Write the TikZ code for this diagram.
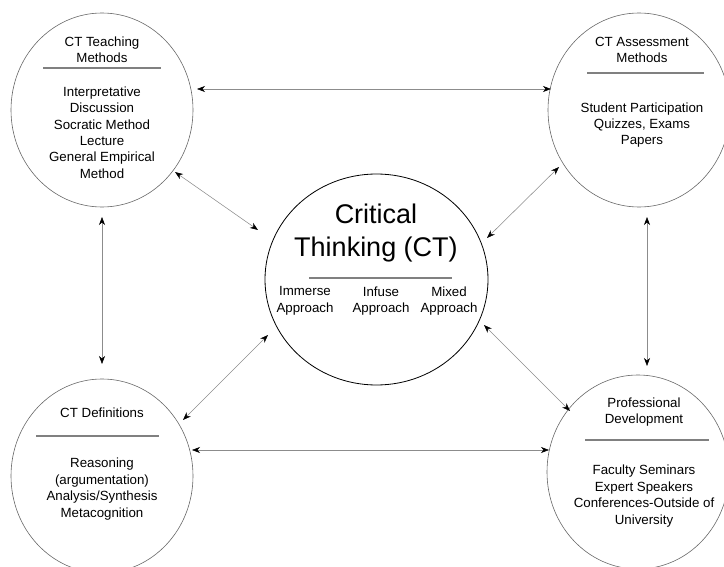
\documentclass[tikz,border=0pt]{standalone}
\usepackage{fontspec}
\setmainfont{Liberation Sans}
\usetikzlibrary{shapes.geometric,arrows.meta}
\begin{document}
\begin{tikzpicture}[x=1pt,y=-1pt,
  outer/.style={draw=black!60,line width=0.6pt,ellipse,inner sep=0pt,minimum width=182pt,minimum height=194pt},
  inner/.style={draw=black,line width=0.8pt,ellipse,inner sep=0pt,minimum width=223pt,minimum height=211pt},
  txt/.style={align=center,inner sep=0pt,font=\fontsize{13.3}{16.4}\selectfont},
  big/.style={align=center,inner sep=0pt,font=\fontsize{27}{33}\selectfont},
  sep/.style={draw=black!50,line width=1.6pt},
  conn/.style={draw=black!45,line width=0.55pt,{Stealth[length=8pt,width=6pt,inset=2.5pt,black]}-{Stealth[length=8pt,width=6pt,inset=2.5pt,black]}}]
\useasboundingbox (0,0) rectangle (724,567);
% circles
\node[outer] (tl) at (102,110) {};
\node[outer] (tr) at (639,110) {};
\node[outer] (bl) at (102,476) {};
\node[outer] (br) at (638,472) {};
\node[inner] (c) at (376.5,279.5) {};
% top-left
\node[txt] (tlh) at (102,50) {CT Teaching\\Methods};
\draw[sep] (43,68) -- (161,68);
\node[txt] (tlb) at (102,132.5) {Interpretative\\Discussion\\Socratic Method\\Lecture\\General Empirical\\Method};
% top-right
\node[txt] (trh) at (642,50) {CT Assessment\\Methods};
\draw[sep] (587,73) -- (704,73);
\node[txt] (trb) at (642,125) {Student Participation\\Quizzes, Exams\\Papers};
% bottom-left
\node[txt] (blh) at (102,413) {CT Definitions};
\draw[sep] (36,436) -- (159,436);
\node[txt] (blb) at (102,489) {Reasoning\\(argumentation)\\Analysis/Synthesis\\Metacognition};
% bottom-right
\node[txt] (brh) at (644,412) {Professional\\Development};
\draw[sep] (585,440) -- (709,440);
\node[txt] (brb) at (644,496) {Faculty Seminars\\Expert Speakers\\Conferences-Outside of\\University};
% center
\node[big] (ch) at (376,233) {Critical\\Thinking (CT)};
\draw[sep] (309,278) -- (452,278);
\node[txt] (c1) at (305,301) {Immerse\\Approach};
\node[txt] (c2) at (381,301) {Infuse\\Approach};
\node[txt] (c3) at (449,301) {Mixed\\Approach};
% connector ends
\coordinate (a1) at (197,89);  \coordinate (a2) at (551,89);
\coordinate (b1) at (192,450); \coordinate (b2) at (549,450);
\coordinate (v1) at (102,217); \coordinate (v2) at (102,364);
\coordinate (w1) at (647,217); \coordinate (w2) at (647,366);
\coordinate (d1) at (175,172); \coordinate (d2) at (258,230);
\coordinate (e1) at (559,167); \coordinate (e2) at (487,238);
\coordinate (f1) at (183,420); \coordinate (f2) at (268,335);
\coordinate (g1) at (484,325); \coordinate (g2) at (570,411);
\draw[conn] (a1) -- (a2);
\draw[conn] (b1) -- (b2);
\draw[conn] (v1) -- (v2);
\draw[conn] (w1) -- (w2);
\draw[conn] (d1) -- (d2);
\draw[conn] (e1) -- (e2);
\draw[conn] (f1) -- (f2);
\draw[conn] (g1) -- (g2);
\end{tikzpicture}
\end{document}
